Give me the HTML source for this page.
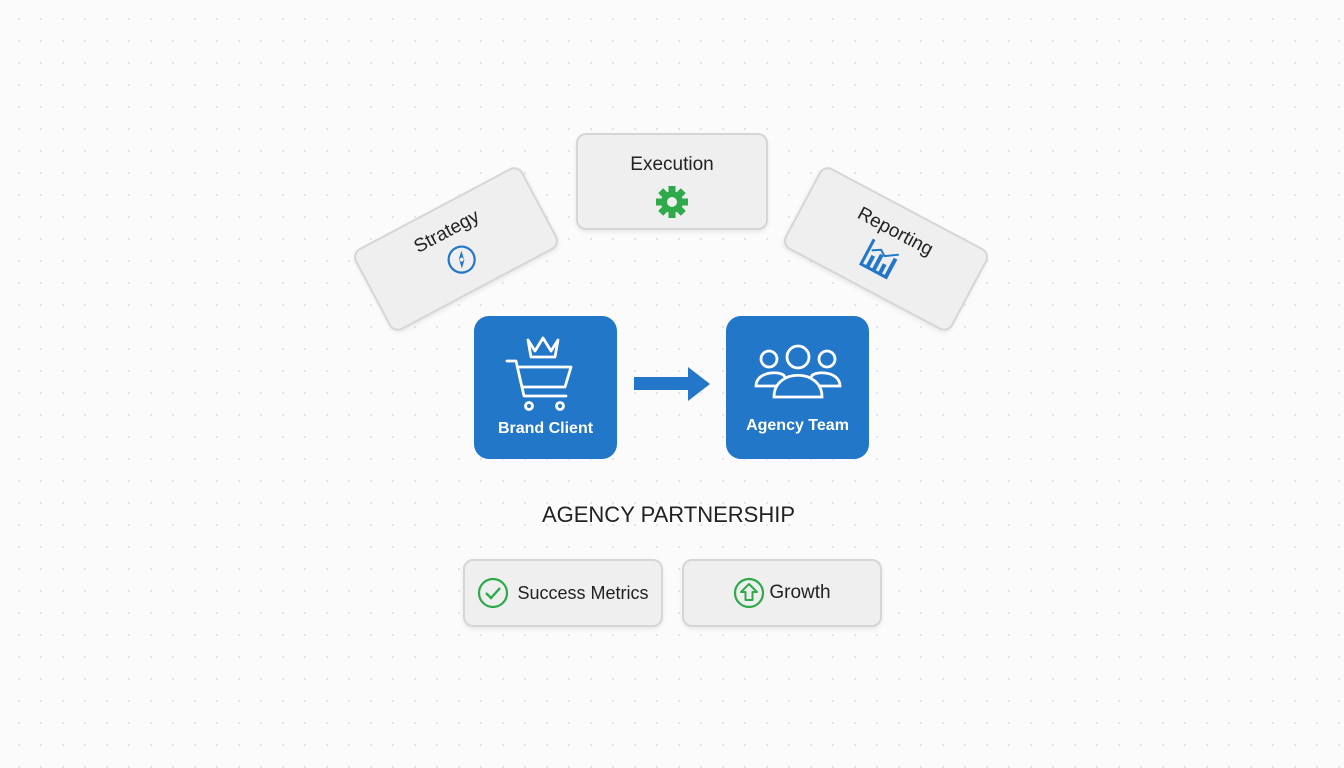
<!DOCTYPE html>
<html><head><style>
body{margin:0;width:1344px;height:768px;overflow:hidden;background:#fbfbfc;font-family:"Liberation Sans",sans-serif;
background-image:radial-gradient(circle,#e2e4e8 1px,transparent 1.3px);background-size:22px 22px;background-position:8px 8px;position:relative}
.card{position:absolute;background:#efefef;border:2px solid #d6d6d6;border-radius:10px;box-sizing:border-box;box-shadow:0 2px 4px rgba(0,0,0,.08);text-align:center;color:#222}
.blue{position:absolute;background:#2277c9;border-radius:15px;width:143px;height:143px;top:316px;color:#fff;text-align:center;font-size:16px;font-weight:bold}
</style></head><body>
<div class="card" style="left:576px;top:133px;width:192px;height:97px">
 <div style="font-size:19px;margin-top:19px">Execution</div>
 <svg width="34" height="34" viewBox="0 0 34 34" style="margin-top:9px"><g fill="#2eaa4a" transform="translate(17 17)">
 <circle r="11"/><g id="t"><rect x="-3.5" y="-16" width="7" height="8"/></g>
 <use href="#t" transform="rotate(45)"/><use href="#t" transform="rotate(90)"/><use href="#t" transform="rotate(135)"/><use href="#t" transform="rotate(180)"/><use href="#t" transform="rotate(225)"/><use href="#t" transform="rotate(270)"/><use href="#t" transform="rotate(315)"/>
 <circle r="5" fill="#efefef"/></g></svg>
</div>
<div class="card" style="left:361px;top:203px;width:190px;height:92px;transform:rotate(-28deg)">
 <div style="font-size:19px;margin-top:14px">Strategy</div>
 <svg width="32" height="32" viewBox="0 0 32 32" style="margin-top:4px"><circle cx="16" cy="16" r="13" fill="none" stroke="#2277c9" stroke-width="2.2"/><path d="M20 8 L18 18 L12 24 L14 14Z" fill="#2277c9"/><circle cx="16" cy="16" r="2" fill="#efefef"/></svg>
</div>
<div class="card" style="left:791px;top:203px;width:190px;height:92px;transform:rotate(28deg)">
 <div style="font-size:19px;margin-top:14px">Reporting</div>
 <svg width="36" height="34" viewBox="0 0 36 34" style="margin-top:2px"><path d="M3 3V31H33" fill="none" stroke="#2277c9" stroke-width="3"/><rect x="8" y="18" width="4" height="12" fill="#2277c9"/><rect x="15" y="13" width="4" height="17" fill="#2277c9"/><rect x="22" y="20" width="4" height="10" fill="#2277c9"/><rect x="29" y="10" width="4" height="20" fill="#2277c9"/><path d="M6 14 L14 9 L20 13 L32 5" fill="none" stroke="#2277c9" stroke-width="2"/></svg>
</div>
<div class="blue" style="left:474px">
 <svg width="80" height="80" viewBox="0 0 80 80" style="position:absolute;left:28px;top:18px" fill="none" stroke="#fff" stroke-width="2.8" stroke-linejoin="round" stroke-linecap="round">
 <path d="M26 6 L33 17 L41 4 L49 17 L56 6 L53 23 L29 23Z"/>
 <path d="M5 27 H14 L22 62 H64"/><path d="M16 33 H69 L63 53 H20"/>
 <circle cx="27" cy="72" r="3.5"/><circle cx="58" cy="72" r="3.5"/></svg>
 <div style="position:absolute;left:0;right:0;top:104px">Brand Client</div>
</div>
<svg style="position:absolute;left:634px;top:366px" width="78" height="36"><rect x="0" y="11" width="56" height="13" fill="#2277c9"/><path d="M54 1 L76 18 L54 35Z" fill="#2277c9"/></svg>
<div class="blue" style="left:726px">
 <svg width="90" height="60" viewBox="0 0 90 60" style="position:absolute;left:27px;top:28px" fill="none" stroke="#fff" stroke-width="2.8">
 <circle cx="16" cy="15" r="8"/><path d="M3 42 C3 26 32 26 32 34 L32 42Z"/>
 <circle cx="74" cy="15" r="8"/><path d="M87 42 C87 26 58 26 58 34 L58 42Z"/>
 <circle cx="45" cy="13" r="11"/><path d="M21 53 C21 24 69 24 69 53Z" fill="#2277c9"/></svg>
 <div style="position:absolute;left:0;right:0;top:101px">Agency Team</div>
</div>
<div style="position:absolute;left:0;width:1337px;top:502px;text-align:center;font-size:22px;color:#222">AGENCY PARTNERSHIP</div>
<div class="card" style="left:463px;top:559px;width:200px;height:68px;display:flex;align-items:center;justify-content:center;font-size:18px">
 <svg width="32" height="32" viewBox="0 0 32 32" style="margin-right:8px"><circle cx="16" cy="16" r="14" fill="none" stroke="#2eaa4a" stroke-width="2.2"/><path d="M9 16 L14 21 L23 11" fill="none" stroke="#2eaa4a" stroke-width="2.4"/></svg>Success Metrics</div>
<div class="card" style="left:682px;top:559px;width:200px;height:68px;display:flex;align-items:center;justify-content:center;font-size:19px">
 <svg width="32" height="32" viewBox="0 0 32 32" style="margin-right:4px"><circle cx="16" cy="16" r="14" fill="none" stroke="#2eaa4a" stroke-width="2.2"/><path d="M16 7 L24 15 H19.5 V23 H12.5 V15 H8Z" fill="none" stroke="#2eaa4a" stroke-width="2" stroke-linejoin="round"/></svg>Growth</div>
</body></html>
